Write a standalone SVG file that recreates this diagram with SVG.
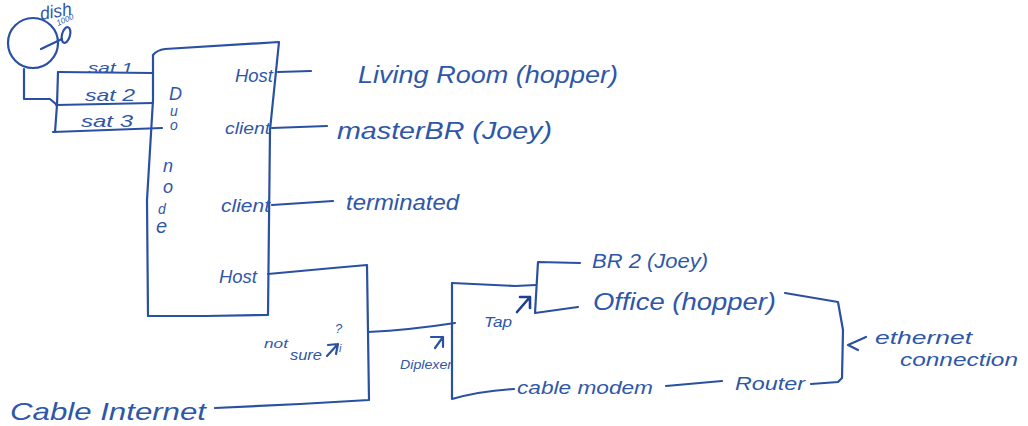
<svg xmlns="http://www.w3.org/2000/svg" width="1028" height="426" viewBox="0 0 1028 426">
<style>
.l{fill:none;stroke:#2a50a2;stroke-width:2.2;stroke-linecap:round;stroke-linejoin:round}
.a{fill:none;stroke:#1f3f8f;stroke-width:2.6;stroke-linecap:round;stroke-linejoin:round}
text{font-family:"Liberation Sans",Arial,sans-serif;font-style:italic;fill:#2f57a8}
</style>
<rect width="1028" height="426" fill="#ffffff"/>
<g id="connectors">
<path class="l" d="M24 69L24 99L50 99L57 105"/>
<path class="l" d="M58 72L57 105L55 132"/>
<path class="l" d="M58 72L153 73"/>
<path class="l" d="M56 105L153 103"/>
<path class="l" d="M53 132L162 128"/>
<path class="l" d="M278 72L311 71"/>
<path class="l" d="M272 128L327 126"/>
<path class="l" d="M272 205L333 201"/>
<path class="l" d="M268 274Q310 270 333 268L367 265L369 400L300 404L215 408"/>
<path class="l" d="M368 332Q410 330 455 323"/>
<path class="l" d="M452 283L515 286L536 285"/>
<path class="l" d="M452 283L452 399Q480 391 514 389"/>
<path class="l" d="M580 263L538 262L535 313L578 307"/>
<path class="l" d="M666 386Q700 383 722 381"/>
<path class="l" d="M785 293L838 302L843 330L842 378L838 382L811 384"/>
<path class="a" d="M517 312L530 297M520 297L530 297L530 308"/>
<path class="l" d="M327 356L338 344M328 345L338 344L336 354"/>
<path class="l" d="M435 348L443 337M431 337L443 337L443 347"/>
<path class="l" d="M866 337L848 345L858 350"/>
</g>
<g id="dish">
<circle class="l" cx="33" cy="43" r="25"/>
<path class="l" d="M41 49L62 39"/>
<ellipse class="l" cx="66" cy="35" rx="4" ry="8" transform="rotate(15 66 35)"/>
<text x="41" y="20" font-size="18" textLength="32" lengthAdjust="spacingAndGlyphs" transform="rotate(-10 41 20)">dish</text>
<text x="58" y="26" font-size="8" textLength="18" lengthAdjust="spacingAndGlyphs" transform="rotate(-25 58 26)">1000</text>
</g>
<g id="duo-node">
<path class="l" d="M153 55Q157 50 165 49L279 42L270 130L268 315L205 316L148 316L147 200L153 100L153 55"/>
<text x="169" y="100" font-size="18">D</text>
<text x="170" y="116" font-size="14">u</text>
<text x="170" y="130" font-size="14">o</text>
<text x="163" y="172" font-size="18">n</text>
<text x="163" y="193" font-size="18">o</text>
<text x="158" y="214" font-size="14">d</text>
<text x="156" y="233" font-size="20">e</text>
<text x="235" y="82" font-size="18" textLength="38" lengthAdjust="spacingAndGlyphs">Host</text>
<text x="225" y="134" font-size="17" textLength="45" lengthAdjust="spacingAndGlyphs">client</text>
<text x="221" y="212" font-size="18" textLength="49" lengthAdjust="spacingAndGlyphs">client</text>
<text x="219" y="283" font-size="19" textLength="38" lengthAdjust="spacingAndGlyphs">Host</text>
</g>
<g id="sat-labels">
<text x="88" y="73" font-size="15" textLength="45" lengthAdjust="spacingAndGlyphs">sat 1</text>
<text x="85" y="101" font-size="17" textLength="50" lengthAdjust="spacingAndGlyphs">sat 2</text>
<text x="81" y="127" font-size="17" textLength="52" lengthAdjust="spacingAndGlyphs">sat 3</text>
</g>
<g id="living-room"><text x="358" y="83" font-size="23" textLength="260" lengthAdjust="spacingAndGlyphs">Living Room (hopper)</text></g>
<g id="master-br"><text x="337" y="139" font-size="23" textLength="215" lengthAdjust="spacingAndGlyphs">masterBR (Joey)</text></g>
<g id="terminated"><text x="346" y="210" font-size="22" textLength="113" lengthAdjust="spacingAndGlyphs">terminated</text></g>
<g id="not-sure">
<text x="264" y="348" font-size="12" textLength="24" lengthAdjust="spacingAndGlyphs">not</text>
<text x="290" y="360" font-size="14" textLength="32" lengthAdjust="spacingAndGlyphs">sure</text>
<text x="335" y="333" font-size="13">?</text>
<text x="339" y="352" font-size="11">i</text>
</g>
<g id="cable-internet"><text x="10" y="420" font-size="24" textLength="196" lengthAdjust="spacingAndGlyphs">Cable Internet</text></g>
<g id="diplexer"><text x="400" y="369" font-size="13" textLength="52" lengthAdjust="spacingAndGlyphs">Diplexer</text></g>
<g id="tap"><text x="484" y="327" font-size="15" textLength="28" lengthAdjust="spacingAndGlyphs">Tap</text></g>
<g id="br2"><text x="592" y="268" font-size="20" textLength="116" lengthAdjust="spacingAndGlyphs">BR 2 (Joey)</text></g>
<g id="office"><text x="593" y="310" font-size="23" textLength="183" lengthAdjust="spacingAndGlyphs">Office (hopper)</text></g>
<g id="cable-modem"><text x="517" y="394" font-size="18" textLength="136" lengthAdjust="spacingAndGlyphs">cable modem</text></g>
<g id="router"><text x="735" y="390" font-size="19" textLength="70" lengthAdjust="spacingAndGlyphs">Router</text></g>
<g id="ethernet">
<text x="875" y="344" font-size="19" textLength="97" lengthAdjust="spacingAndGlyphs">ethernet</text>
<text x="900" y="366" font-size="18" textLength="118" lengthAdjust="spacingAndGlyphs">connection</text>
</g>
</svg>
